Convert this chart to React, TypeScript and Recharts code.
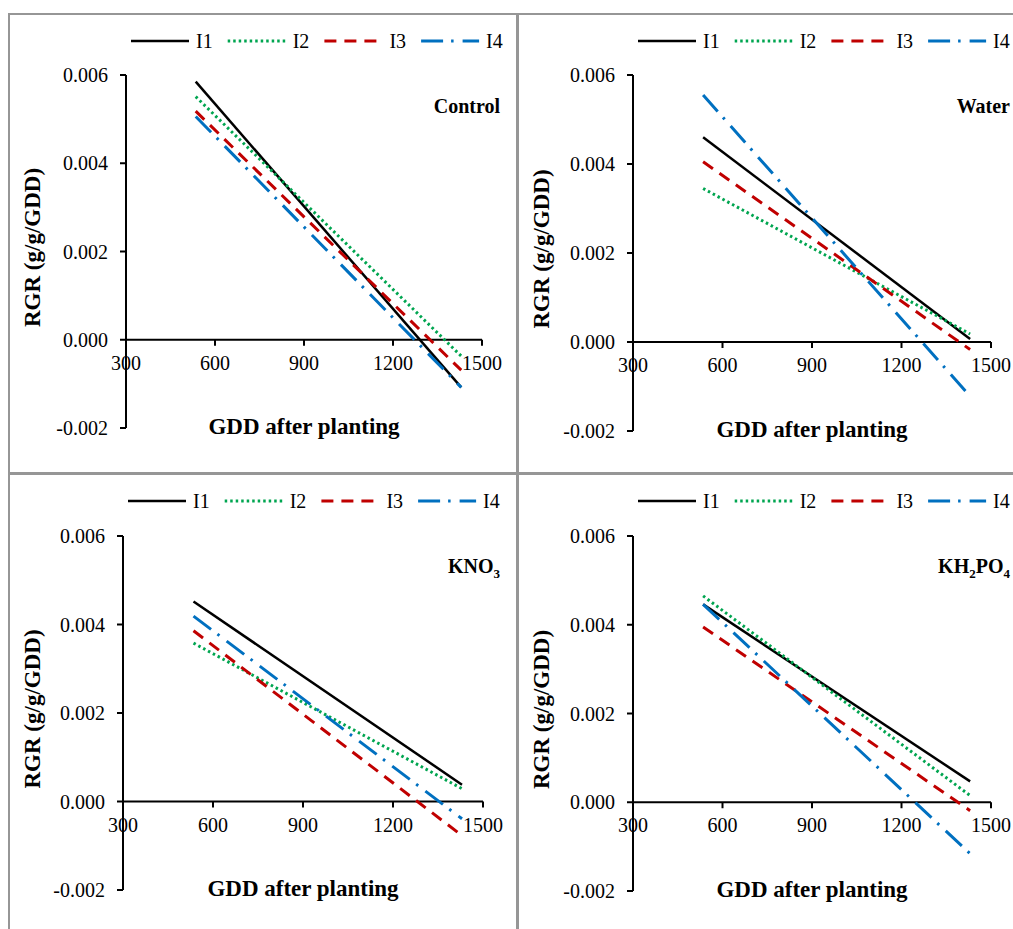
import React from 'react';
import { LineChart, Line, XAxis, YAxis, ReferenceLine, ReferenceDot, Legend } from 'recharts';

// ---------- data ----------
const GDD = [535, 1430];
const X_TICKS = [300, 600, 900, 1200, 1500];
const Y_TICKS = [-0.002, 0, 0.002, 0.004, 0.006];
const SERIES_NAMES = ['I1', 'I2', 'I3', 'I4'];

const CONTROL_I1 = [0.00585, -0.00108];
const CONTROL_I2 = [0.00551, -0.00037];
const CONTROL_I3 = [0.00518, -0.00069];
const CONTROL_I4 = [0.00506, -0.00108];

const WATER_I1 = [0.0046, 0.00007];
const WATER_I2 = [0.00345, 0.00018];
const WATER_I3 = [0.00405, -0.00017];
const WATER_I4 = [0.00555, -0.00122];

const KNO3_I1 = [0.00452, 0.00038];
const KNO3_I2 = [0.00358, 0.00029];
const KNO3_I3 = [0.00386, -0.00077];
const KNO3_I4 = [0.00419, -0.00039];

const KH2PO4_I1 = [0.00446, 0.00047];
const KH2PO4_I2 = [0.00465, 0.00015];
const KH2PO4_I3 = [0.00395, -0.00019];
const KH2PO4_I4 = [0.00446, -0.00116];

const X_TITLE = 'GDD after planting';
const Y_TITLE = 'RGR (g/g/GDD)';

// ---------- styles ----------
const FONT = 'Liberation Serif, Times New Roman, Tinos, DejaVu Serif, serif';
const SERIES_STYLE = [
  { color: '#000000', width: 2.5, dash: undefined as string | undefined },
  { color: '#00A550', width: 3, dash: '2.5 3' },
  { color: '#C00000', width: 3, dash: '12 8' },
  { color: '#0070C0', width: 3, dash: '22 8 2.5 9' },
];

type TitlePart = { t: string; sub?: boolean };

const PANELS = [
  {
    title: [{ t: 'Control' }] as TitlePart[],
    values: [CONTROL_I1, CONTROL_I2, CONTROL_I3, CONTROL_I4],
    left: 8, top: 13, axisLeft: 118, plotTop: 62, plotHeight: 353, plotRight: 474, titleX: 492,
  },
  {
    title: [{ t: 'Water' }] as TitlePart[],
    values: [WATER_I1, WATER_I2, WATER_I3, WATER_I4],
    left: 517, top: 13, axisLeft: 116, plotTop: 62, plotHeight: 356, plotRight: 474, titleX: 493,
  },
  {
    title: [{ t: 'KNO' }, { t: '3', sub: true }] as TitlePart[],
    values: [KNO3_I1, KNO3_I2, KNO3_I3, KNO3_I4],
    left: 8, top: 473, axisLeft: 115, plotTop: 63, plotHeight: 354, plotRight: 475, titleX: 492,
  },
  {
    title: [{ t: 'KH' }, { t: '2', sub: true }, { t: 'PO' }, { t: '4', sub: true }] as TitlePart[],
    values: [KH2PO4_I1, KH2PO4_I2, KH2PO4_I3, KH2PO4_I4],
    left: 517, top: 473, axisLeft: 116, plotTop: 63, plotHeight: 355, plotRight: 474, titleX: 493,
  },
];

const CHART_W = 509;
const CHART_H = 460;
const XAXIS_H = 30;
const TXT = { fontFamily: FONT };

function XTick(props: any) {
  const { cx, cy, label } = props;
  if (cx == null || cy == null) return null;
  return (
    <g>
      <line x1={cx} y1={cy} x2={cx} y2={cy + 6} stroke="#000" strokeWidth={2} />
      <text x={cx} y={cy + 30} textAnchor="middle" fontSize={20} style={TXT} fill="#000">
        {label}
      </text>
    </g>
  );
}

function LegendBox({ axisLeft }: { axisLeft: number }) {
  return (
    <svg width={CHART_W} height={50} style={{ display: 'block' }}>
      {SERIES_NAMES.map((name, i) => {
        const s = axisLeft + 5 + i * 96.7;
        const st = SERIES_STYLE[i];
        return (
          <g key={name}>
            <line x1={s} x2={s + 58} y1={28} y2={28} stroke={st.color} strokeWidth={st.width} strokeDasharray={st.dash} />
            <text x={s + 65} y={34.6} fontSize={20} style={TXT} fill="#000">{name}</text>
          </g>
        );
      })}
    </svg>
  );
}

function Panel({ p }: { p: (typeof PANELS)[number] }) {
  const data = GDD.map((g, i) => {
    const row: any = { gdd: g };
    SERIES_NAMES.forEach((n, k) => { row[n] = p.values[k][i]; });
    return row;
  });
  const plotWidth = p.plotRight - p.axisLeft;
  const bottom = CHART_H - p.plotTop - p.plotHeight - XAXIS_H;
  const right = CHART_W - p.plotRight;
  const yLabelY = p.plotTop + p.plotHeight / 2 - 4;
  const yLabelX = 31.5;

  return (
    <div style={{ position: 'absolute', left: p.left, top: p.top, width: CHART_W, height: CHART_H, fontFamily: FONT }}>
      <LineChart width={CHART_W} height={CHART_H} data={data} margin={{ top: p.plotTop, right, bottom, left: 0 }}>
        <XAxis
          type="number"
          dataKey="gdd"
          domain={[300, 1500]}
          ticks={X_TICKS}
          tick={false}
          tickLine={false}
          axisLine={false}
          height={XAXIS_H}
          allowDataOverflow
          label={{
            content: () => (
              <text
                x={p.axisLeft + plotWidth / 2}
                y={p.plotTop + p.plotHeight + 5.5}
                textAnchor="middle"
                fontSize={23}
                fontWeight="bold"
                style={TXT}
                fill="#000"
              >
                {X_TITLE}
              </text>
            ),
          }}
        />
        <YAxis
          type="number"
          domain={[-0.002, 0.006]}
          ticks={Y_TICKS}
          interval={0}
          allowDataOverflow
          width={p.axisLeft}
          tickFormatter={(v: number) => v.toFixed(3)}
          axisLine={{ stroke: '#000', strokeWidth: 2 }}
          tickLine={{ stroke: '#000', strokeWidth: 2 }}
          tickSize={6}
          tickMargin={12}
          tick={{ fill: '#000', fontSize: 20, fontFamily: FONT, style: TXT }}
          label={{
            content: () => (
              <text
                x={yLabelX}
                y={yLabelY}
                transform={`rotate(-90 ${yLabelX} ${yLabelY})`}
                textAnchor="middle"
                fontSize={23}
                fontWeight="bold"
                style={TXT}
                fill="#000"
              >
                {Y_TITLE}
              </text>
            ),
          }}
        />
        <ReferenceLine y={0} stroke="#000" strokeWidth={2} />
        {X_TICKS.map((t) => (
          <ReferenceDot
            key={t}
            x={t}
            y={0}
            r={1}
            ifOverflow="visible"
            shape={(sp: any) => <XTick cx={sp.cx} cy={sp.cy} label={String(t)} />}
          />
        ))}
        {SERIES_NAMES.map((n, i) => (
          <Line
            key={n}
            dataKey={n}
            name={n}
            type="linear"
            stroke={SERIES_STYLE[i].color}
            strokeWidth={SERIES_STYLE[i].width}
            strokeDasharray={SERIES_STYLE[i].dash}
            dot={false}
            activeDot={false}
            isAnimationActive={false}
          />
        ))}
        <Legend
          layout="horizontal"
          align="center"
          verticalAlign="middle"
          wrapperStyle={{ left: 0, top: 0, width: CHART_W, height: 50 }}
          content={() => <LegendBox axisLeft={p.axisLeft} />}
        />
        <text x={p.titleX} y={100.3} textAnchor="end" fontSize={20} fontWeight="bold" style={TXT} fill="#000">
          {p.title.map((part, k) =>
            part.sub ? (
              <tspan key={k} fontSize={13} dy={5}>{part.t}</tspan>
            ) : (
              <tspan key={k} fontSize={20} dy={k > 0 ? -5 : 0}>{part.t}</tspan>
            )
          )}
        </text>
      </LineChart>
    </div>
  );
}

const BORDER = '#969696';

export default function App() {
  const boxes = [
    { left: 8, top: 13, width: 510, height: 461 },
    { left: 517, top: 13, width: 510, height: 461 },
    { left: 8, top: 473, width: 510, height: 470 },
    { left: 517, top: 473, width: 510, height: 470 },
  ];
  return (
    <div style={{ position: 'fixed', left: 0, top: 0, width: 1013, height: 929, overflow: 'hidden', background: '#fff' }}>
      {boxes.map((b, i) => (
        <div
          key={i}
          style={{ position: 'absolute', ...b, border: `2px solid ${BORDER}`, boxSizing: 'border-box' }}
        />
      ))}
      {PANELS.map((p, i) => (
        <Panel key={i} p={p} />
      ))}
    </div>
  );
}
